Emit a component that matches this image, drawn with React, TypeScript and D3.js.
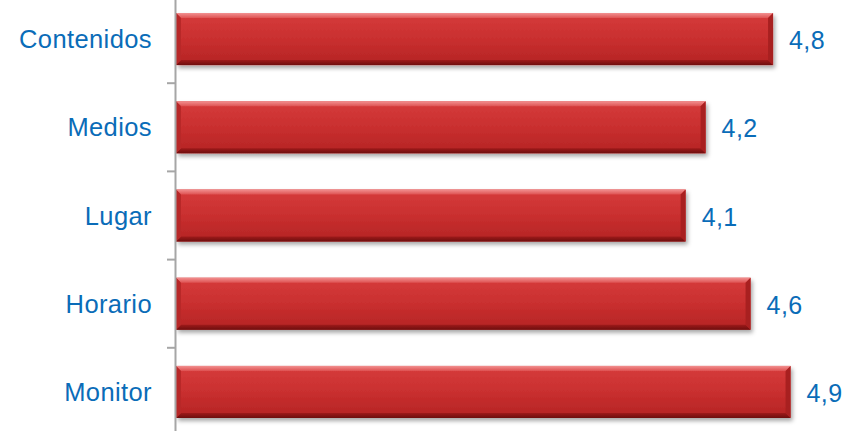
import React from "react";
import * as d3 from "d3";

const categories = ["Contenidos", "Medios", "Lugar", "Horario", "Monitor"];
const values = [4.78, 4.24, 4.08, 4.6, 4.92];
const labels = ["4,8", "4,2", "4,1", "4,6", "4,9"];

const W = 856;
const H = 431;

export default function App() {
  const x = d3.scaleLinear().domain([0, 5.5]).range([176, 863]);
  const y = d3
    .scaleBand<string>()
    .domain(categories)
    .range([-5, 436])
    .paddingInner(0.41)
    .paddingOuter(0.205);
  const bw = y.bandwidth();
  const step = y.step();
  const x0 = x(0);
  const bev = 5;
  const blue = "#0A6CB8";
  const font = "'Liberation Sans', Arial, sans-serif";

  const ticks = d3.range(categories.length + 1).map((i) => (y(categories[0]) as number) - y.paddingOuter() * step + i * step);

  return (
    <svg width={W} height={H} style={{ position: "absolute", left: 0, top: 0, display: "block" }}>
      <defs>
        <linearGradient id="body" x1="0" y1="0" x2="0" y2="1">
          <stop offset="0" stopColor="#D63C3C" />
          <stop offset="0.5" stopColor="#C92F2F" />
          <stop offset="1" stopColor="#B42424" />
        </linearGradient>
        <linearGradient id="topb" x1="0" y1="0" x2="0" y2="1">
          <stop offset="0" stopColor="#F29090" />
          <stop offset="1" stopColor="#DE5252" />
        </linearGradient>
        <linearGradient id="botb" x1="0" y1="0" x2="0" y2="1">
          <stop offset="0" stopColor="#9E1A1A" />
          <stop offset="1" stopColor="#6E0E0E" />
        </linearGradient>
        <filter id="shadow" x="-5%" y="-20%" width="110%" height="150%">
          <feDropShadow dx="2" dy="3" stdDeviation="2" floodColor="#000" floodOpacity="0.35" />
        </filter>
      </defs>
      <rect x={0} y={0} width={W} height={H} fill="#fff" />
      {categories.map((c, i) => {
        const y0 = y(c) as number;
        const x1 = x(values[i]);
        const y1 = y0 + bw;
        return (
          <g key={c}>
            <rect x={x0} y={y0} width={x1 - x0} height={bw} fill="url(#body)" filter="url(#shadow)" />
            <polygon
              points={`${x0},${y0} ${x1},${y0} ${x1 - bev},${y0 + bev} ${x0 + bev},${y0 + bev}`}
              fill="url(#topb)"
            />
            <polygon
              points={`${x0},${y1} ${x1},${y1} ${x1 - bev},${y1 - bev} ${x0 + bev},${y1 - bev}`}
              fill="url(#botb)"
            />
            <polygon
              points={`${x1},${y0} ${x1},${y1} ${x1 - bev},${y1 - bev} ${x1 - bev},${y0 + bev}`}
              fill="#A82020"
            />
            <polygon
              points={`${x0},${y0} ${x0},${y1} ${x0 + bev},${y1 - bev} ${x0 + bev},${y0 + bev}`}
              fill="#B82828"
            />
            <text
              x={x1 + 16}
              y={y0 + bw / 2 + 1}
              dominantBaseline="central"
              fill={blue}
              fontFamily={font}
              fontSize={25}
              letterSpacing={0.4}
            >
              {labels[i]}
            </text>
            <text
              x={152}
              y={y0 + bw / 2}
              dominantBaseline="central"
              textAnchor="end"
              fill={blue}
              fontFamily={font}
              fontSize={25.5}
              letterSpacing={0.4}
            >
              {c}
            </text>
          </g>
        );
      })}
      <line x1={175.5} x2={175.5} y1={0} y2={H} stroke="#A6A6A6" strokeWidth={2} />
      {ticks.map((t, i) => (
        <line key={i} x1={167} x2={176} y1={t} y2={t} stroke="#A6A6A6" strokeWidth={2} />
      ))}
    </svg>
  );
}
